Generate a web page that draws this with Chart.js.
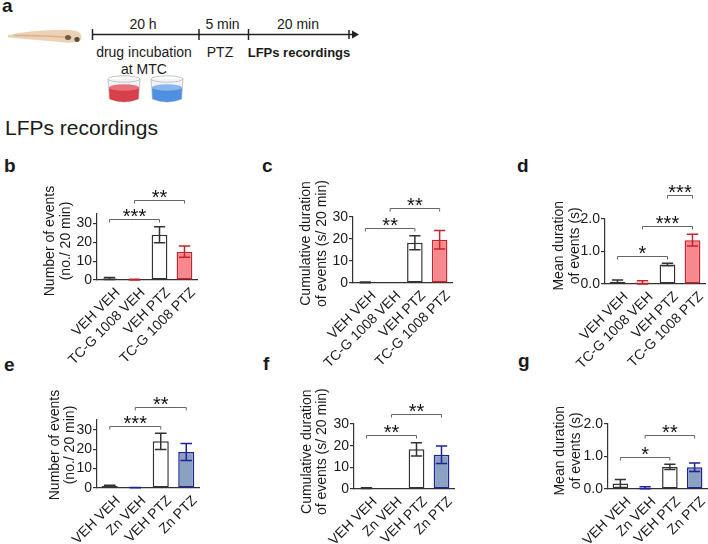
<!DOCTYPE html>
<html>
<head>
<meta charset="utf-8">
<script src="https://cdn.jsdelivr.net/npm/chart.js@4.4.1/dist/chart.umd.min.js"></script>
<style>
  html, body { margin: 0; padding: 0; background: #fff; }
  body { width: 708px; height: 544px; position: relative; overflow: hidden; }
  #art { position: absolute; left: 0; top: 0; }
  canvas { position: absolute; }
</style>
</head>
<body>
<svg id="art" width="708" height="544" font-family="Liberation Sans, Arial, sans-serif" fill="#1a1a1a">
  <!-- fish -->
  <path d="M8,35 Q30,30.5 55,30 Q70,29 78,31.5 Q84,36 80,41 Q70,44 55,41.5 Q30,39.5 8,37.5 Z" fill="#ecd1b4"/>
  <path d="M14,35.5 Q40,35 72,37.5" stroke="#d8b08e" stroke-width="1.5" fill="none"/>
  <ellipse cx="68" cy="37.5" rx="3" ry="2.5" fill="#6e5c49"/>
  <ellipse cx="77" cy="39.5" rx="2.6" ry="2.4" fill="#5c4b3a"/>
  <!-- timeline -->
  <g stroke="#222" stroke-width="1.5">
    <line x1="92" y1="34.5" x2="355" y2="34.5"/>
    <line x1="92.5" y1="29" x2="92.5" y2="40"/>
    <line x1="199" y1="29" x2="199" y2="40"/>
    <line x1="248.5" y1="29" x2="248.5" y2="40"/>
    <line x1="349" y1="30" x2="349" y2="39"/>
  </g>
  <path d="M352,30.5 L359,34.5 L352,38.5 Z" fill="#222"/>
  <g font-size="14" text-anchor="middle">
    <text x="143" y="29">20 h</text>
    <text x="222.5" y="29">5 min</text>
    <text x="298" y="29">20 min</text>
    <text x="144" y="56.5">drug incubation</text>
    <text x="144" y="74">at MTC</text>
    <text x="220" y="56.5">PTZ</text>
    <text x="299" y="56.5" font-size="13" font-weight="bold">LFPs recordings</text>
  </g>
  <!-- beakers -->
  <g>
    <path d="M108,79 L109.5,99 Q124,105 138.5,99 L140,79" fill="#f3f4f7" stroke="#c4c4cc" stroke-width="1"/>
    <path d="M109,87 L109.5,99 Q124,105 138.5,99 L139,87 Q124,91 109,87 Z" fill="#d6404b"/>
    <ellipse cx="124" cy="87.5" rx="15" ry="3.2" fill="#e8727a"/>
    <ellipse cx="124" cy="79" rx="16" ry="3.2" fill="none" stroke="#c4c4cc"/>
    <path d="M151,79 L152.5,99 Q167,105 181.5,99 L183,79" fill="#f3f4f7" stroke="#c4c4cc" stroke-width="1"/>
    <path d="M152,87 L152.5,99 Q167,105 181.5,99 L182,87 Q167,91 152,87 Z" fill="#4f8fe0"/>
    <ellipse cx="167" cy="87.5" rx="15" ry="3.2" fill="#8ab6ef"/>
    <ellipse cx="167" cy="79" rx="16" ry="3.2" fill="none" stroke="#c4c4cc"/>
  </g>
  <!-- labels -->
  <g font-size="19" font-weight="bold">
    <text x="2" y="12">a</text>
    <text x="4" y="172">b</text>
    <text x="262" y="172">c</text>
    <text x="517" y="172">d</text>
    <text x="4" y="371">e</text>
    <text x="263" y="370">f</text>
    <text x="518" y="367">g</text>
  </g>
  <text x="5" y="135" font-size="21">LFPs recordings</text>
</svg>
<script>
// groups
const labelsTC = ["VEH VEH", "TC-G 1008 VEH", "VEH PTZ", "TC-G 1008 PTZ"];
const labelsZn = ["VEH VEH", "Zn VEH", "VEH PTZ", "Zn PTZ"];

// means and SEM
const eventsTC = [0.8, 0.2, 24, 15];
const errEventsTC = [0.5, 0.2, 4.2, 3];
const cumTC = [0.3, 0, 18.3, 19.7];
const errCumTC = [0.2, 0, 3.2, 4.2];
const meanTC = [0.07, 0.05, 0.6, 1.35];
const errMeanTC = [0.05, 0.05, 0.04, 0.18];

const eventsZn = [1.0, 0.2, 24, 18.5];
const errEventsZn = [0.4, 0.1, 4.2, 4.4];
const cumZn = [0.4, 0.1, 18.3, 15.8];
const errCumZn = [0.2, 0, 3.1, 4];
const meanZn = [0.17, 0.04, 0.68, 0.67];
const errMeanZn = [0.12, 0.03, 0.08, 0.13];

// y ticks
const ticksCount = [0, 10, 20, 30];
const ticksCum = [0, 10, 20, 30];
const ticksMean = [0, 0.5, 1, 1.5, 2];

// significance: [from group, to group, height, stars]
const sigB = [[0, 2, 32.3, "***"], [1, 3, 42.4, "**"]];
const sigC = [[0, 2, 24.8, "**"], [1, 3, 34.1, "**"]];
const sigD = [[0, 2, 0.85, "*"], [1, 3, 1.8, "***"], [2, 3, 2.74, "***"]];
const sigE = [[0, 2, 32, "***"], [1, 3, 41.9, "**"]];
const sigF = [[0, 2, 25, "**"], [1, 3, 34.4, "**"]];
const sigG = [[0, 2, 1.0, "*"], [1, 3, 1.67, "**"]];

const titleCount = ["Number of events", "(no./ 20 min)"];
const titleCum = ["Cumulative duration", "of events (s/ 20 min)"];
const titleMean = ["Mean duration", "of events (s)"];

const FONT = "'Liberation Sans', Arial, sans-serif";
Chart.defaults.font.family = FONT;
Chart.defaults.color = "#1a1a1a";

const fillRed = ["#ffffff", "#f7898e", "#ffffff", "#f7898e"];
const lineRed = ["#333333", "#c3252d", "#333333", "#c3252d"];
const fillBlue = ["#ffffff", "#8aa2c2", "#ffffff", "#8aa2c2"];
const lineBlue = ["#333333", "#1f2393", "#333333", "#1f2393"];

const YW = 60, PL = 50, PT = 70, PR = 12, XH = 90;

// error bars, brackets, rotated group names and the two-line y title
const extras = {
  id: "extras",
  afterDatasetsDraw(chart, args, o) {
    const ctx = chart.ctx;
    const ys = chart.scales.y, xs = chart.scales.x;
    const meta = chart.getDatasetMeta(0);
    const ds = chart.data.datasets[0];
    ctx.save();
    ctx.lineWidth = 1.5;
    o.err.forEach((e, i) => {
      if (!e) return;
      const bar = meta.data[i];
      const v = ds.data[i];
      const hw = bar.width * 0.36;
      const y1 = ys.getPixelForValue(v + e);
      const y2 = ys.getPixelForValue(Math.max(v - e, 0));
      ctx.strokeStyle = ds.borderColor[i];
      ctx.beginPath();
      ctx.moveTo(bar.x, y1); ctx.lineTo(bar.x, y2);
      ctx.moveTo(bar.x - hw, y1); ctx.lineTo(bar.x + hw, y1);
      ctx.moveTo(bar.x - hw, y2); ctx.lineTo(bar.x + hw, y2);
      ctx.stroke();
    });
    ctx.strokeStyle = "#666";
    ctx.lineWidth = 1;
    ctx.fillStyle = "#111";
    ctx.font = "20px " + FONT;
    ctx.textAlign = "center";
    ctx.textBaseline = "alphabetic";
    o.sig.forEach(([a, b, h, s]) => {
      const x1 = xs.getPixelForValue(a), x2 = xs.getPixelForValue(b);
      const y = Math.round(ys.getPixelForValue(h)) + 0.5;
      ctx.beginPath();
      ctx.moveTo(x1, y + 3); ctx.lineTo(x1, y); ctx.lineTo(x2, y); ctx.lineTo(x2, y + 3);
      ctx.stroke();
      ctx.fillText(s, (x1 + x2) / 2, y + 3);
    });
    ctx.font = "14px " + FONT;
    ctx.fillStyle = "#1a1a1a";
    ctx.textBaseline = "middle";
    o.title.forEach((t, k) => {
      ctx.save();
      ctx.translate(chart.chartArea.left - o.d1 + k * 15.5, o.yc);
      ctx.rotate(-Math.PI / 2);
      ctx.fillText(t, 0, 0);
      ctx.restore();
    });
    ctx.textAlign = "right";
    chart.data.labels.forEach((t, i) => {
      ctx.save();
      ctx.translate(xs.getPixelForValue(i) + 8.5, chart.chartArea.bottom + 10.5);
      ctx.rotate(-Math.PI / 4);
      ctx.fillText(t, 0, 0);
      ctx.restore();
    });
    ctx.restore();
  }
};

const panels = [
  { L: 97, R: 197, T: 214, B: 280, max: 35, labels: labelsTC, values: eventsTC, err: errEventsTC, ticks: ticksCount, sig: sigB, title: titleCount, d1: 46.7, yc: 241, fill: fillRed, line: lineRed, dec: 0 },
  { L: 353, R: 452, T: 217, B: 283, max: 30, labels: labelsTC, values: cumTC, err: errCumTC, ticks: ticksCum, sig: sigC, title: titleCum, d1: 46.7, yc: 243.5, fill: fillRed, line: lineRed, dec: 0 },
  { L: 605, R: 705, T: 219, B: 284, max: 2, labels: labelsTC, values: meanTC, err: errMeanTC, ticks: ticksMean, sig: sigD, title: titleMean, d1: 45.8, yc: 245.8, fill: fillRed, line: lineRed, dec: 1 },
  { L: 97, R: 199, T: 420, B: 488, max: 35, labels: labelsZn, values: eventsZn, err: errEventsZn, ticks: ticksCount, sig: sigE, title: titleCount, d1: 42.3, yc: 445, fill: fillBlue, line: lineBlue, dec: 0 },
  { L: 354, R: 454, T: 424, B: 489, max: 30, labels: labelsZn, values: cumZn, err: errCumZn, ticks: ticksCum, sig: sigF, title: titleCum, d1: 47.3, yc: 451.7, fill: fillBlue, line: lineBlue, dec: 0 },
  { L: 608, R: 707, T: 424, B: 489, max: 2, labels: labelsZn, values: meanZn, err: errMeanZn, ticks: ticksMean, sig: sigG, title: titleMean, d1: 47.7, yc: 450.8, fill: fillBlue, line: lineBlue, dec: 1 }
];

panels.forEach((p) => {
  const cv = document.createElement("canvas");
  const w = (p.R - p.L) + PL + YW + PR;
  const h = PT + (p.B - p.T) + XH;
  cv.width = w; cv.height = h;
  cv.style.left = (p.L - YW - PL) + "px";
  cv.style.top = (p.T - PT) + "px";
  cv.style.width = w + "px"; cv.style.height = h + "px";
  document.body.appendChild(cv);

  new Chart(cv, {
    type: "bar",
    data: {
      labels: p.labels,
      datasets: [{
        data: p.values,
        backgroundColor: p.fill,
        borderColor: p.line,
        borderWidth: 1.5,
        borderSkipped: false,
        barPercentage: 0.63,
        categoryPercentage: 1
      }]
    },
    options: {
      responsive: false,
      animation: false,
      devicePixelRatio: 1,
      layout: { padding: { top: PT, right: PR, left: PL, bottom: 0 } },
      plugins: {
        legend: { display: false },
        tooltip: { enabled: false },
        extras: { err: p.err, sig: p.sig, title: p.title, d1: p.d1, yc: p.yc - (p.T - PT) }
      },
      scales: {
        x: {
          grid: { display: false },
          border: { display: true, color: "#333", width: 1.2 },
          ticks: { display: false },
          afterFit: (s) => { s.height = XH; }
        },
        y: {
          min: 0,
          max: p.max,
          grid: { drawOnChartArea: false, drawTicks: true, tickLength: 4, color: "#333", lineWidth: 1.2 },
          border: { display: true, color: "#333", width: 1.2 },
          ticks: { font: { size: 14 }, color: "#1a1a1a", padding: 1, callback: (v) => Number(v).toFixed(p.dec) },
          afterBuildTicks: (s) => { s.ticks = p.ticks.map((v) => ({ value: v })); },
          afterFit: (s) => { s.width = YW; }
        }
      }
    },
    plugins: [extras]
  });
});
</script>
</body>
</html>
